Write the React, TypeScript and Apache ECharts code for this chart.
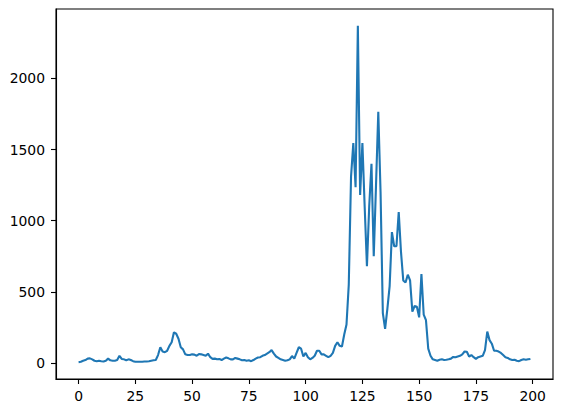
import React, { useEffect, useRef } from "react";
import * as echarts from "echarts";

const values: number[] = [
  5, 8, 15, 20, 30, 32, 25, 15, 12, 15,
  12, 10, 15, 30, 18, 15, 15, 20, 50, 28,
  25, 18, 25, 20, 12, 8, 8, 8, 8, 10,
  10, 12, 15, 18, 20, 55, 110, 80, 75, 85,
  120, 145, 215, 205, 170, 110, 95, 60, 55, 55,
  60, 58, 50, 62, 60, 55, 50, 65, 40, 28,
  30, 25, 28, 20, 30, 38, 32, 25, 25, 35,
  30, 25, 18, 20, 15, 18, 12, 20, 30, 38,
  40, 50, 55, 65, 75, 90, 65, 45, 35, 25,
  20, 15, 18, 25, 48, 30, 70, 110, 100, 45,
  70, 40, 25, 35, 50, 85, 85, 60, 60, 50,
  40, 50, 70, 120, 145, 120, 115, 200, 270, 550,
  1310, 1545, 1235, 2370, 1180, 1545, 1100, 680, 1100, 1400,
  750, 1250, 1765, 1200, 350, 240, 380, 540, 920, 820,
  820, 1060, 780, 580, 565, 620, 580, 360, 400, 395,
  320, 625, 340, 300, 100, 50, 25, 20, 15, 22,
  25, 20, 22, 25, 30, 42, 40, 45, 50, 60,
  80, 78, 45, 55, 40, 28, 40, 45, 50, 90,
  220, 160, 135, 85, 85, 80, 70, 55, 40, 35,
  25, 20, 22, 15, 12, 20, 25, 22, 25, 28,
];

const xTicks: number[] = [0, 25, 50, 75, 100, 125, 150, 175, 200];
const yTicks: number[] = [0, 500, 1000, 1500, 2000];

export default function App() {
  const ref = useRef<HTMLDivElement>(null);
  useEffect(() => {
    if (!ref.current) return;
    const chart = echarts.init(ref.current, null, { renderer: "svg" });
    const n = values.length;
    const xMin = 0 - 0.05 * (n - 1);
    const xMax = n - 1 + 0.05 * (n - 1);
    const vMin = Math.min(...values);
    const vMax = Math.max(...values);
    const pad = 0.05 * (vMax - vMin);
    const font = "DejaVu Sans";
    const axisLine = { show: true, onZero: false, lineStyle: { color: "#000", width: 1.1 } };
    chart.setOption({
      animation: false,
      grid: {
        left: 56,
        right: 8,
        top: 9,
        bottom: 34,
        show: true,
        borderColor: "#000",
        borderWidth: 1.1,
        backgroundColor: "#fff",
      },
      xAxis: {
        type: "value",
        min: xMin,
        max: xMax,
        splitLine: { show: false },
        axisLine,
        axisTick: {
          show: true,
          length: 5,
          lineStyle: { color: "#000", width: 1.1 },
          customValues: xTicks,
        },
        axisLabel: {
          color: "#000",
          fontSize: 13.9,
          fontFamily: font,
          margin: 10,
          customValues: xTicks,
          formatter: (v: number) => String(v),
        },
      },
      yAxis: {
        type: "value",
        min: vMin - pad,
        max: vMax + pad,
        splitLine: { show: false },
        axisLine,
        axisTick: {
          show: true,
          length: 5,
          lineStyle: { color: "#000", width: 1.1 },
          customValues: yTicks,
        },
        axisLabel: {
          color: "#000",
          fontSize: 13.9,
          fontFamily: font,
          margin: 11,
          customValues: yTicks,
          formatter: (v: number) => String(v),
        },
      },
      series: [
        {
          type: "line",
          data: values.map((v, i) => [i, v]),
          showSymbol: false,
          symbol: "none",
          lineStyle: { color: "#1f77b4", width: 2.1 },
        },
      ],
    });
    return () => chart.dispose();
  }, []);
  return (
    <div
      ref={ref}
      style={{ position: "fixed", left: 0, top: 0, width: 561, height: 413, background: "#fff" }}
    />
  );
}
